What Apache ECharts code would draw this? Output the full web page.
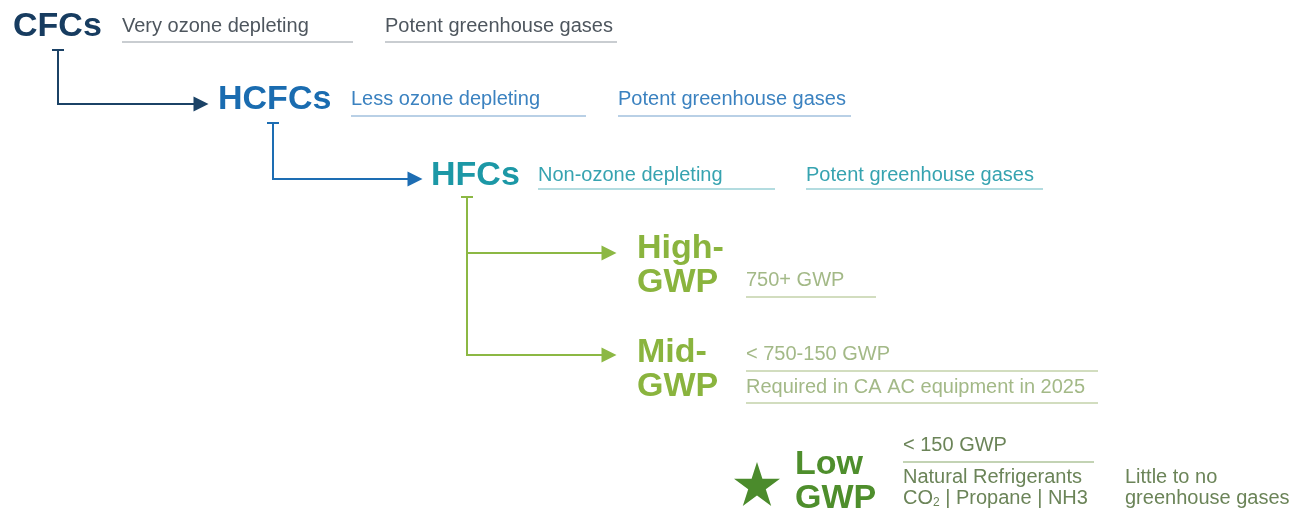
<!DOCTYPE html>
<html>
<head>
<meta charset="utf-8">
<title>Refrigerant transition</title>
<script src="https://cdn.jsdelivr.net/npm/echarts@6/dist/echarts.min.js"></script>
<style>
  html, body { margin: 0; padding: 0; background: #fff; }
  #main { width: 1314px; height: 512px; }
</style>
</head>
<body>
<div id="main"></div>
<script>
// refrigerant generations, placed on a 1314 x 512 value plane
const stageNames = ['CFCs', 'HCFCs', 'HFCs', 'High-\nGWP', 'Mid-\nGWP', 'Low\nGWP'];
const stageX = [13, 218, 431, 637, 637, 795];
const stageY = [27, 100, 176, 266, 370, 482];

// annotations next to each generation
const noteTexts = [
  'Very ozone depleting', 'Potent greenhouse gases',
  'Less ozone depleting', 'Potent greenhouse gases',
  'Non-ozone depleting', 'Potent greenhouse gases',
  '750+ GWP',
  '< 750-150 GWP', 'Required in CA AC equipment in 2025',
  '< 150 GWP', 'Natural Refrigerants', 'CO{sub|2} | Propane | NH3',
  'Little to no', 'greenhouse gases'
];
const noteStage = [0, 0, 1, 1, 2, 2, 3, 4, 4, 5, 5, 5, 5, 5];
const noteX = [122, 385, 351, 618, 538, 806, 746, 746, 746, 903, 903, 903, 1125, 1125];
const noteY = [26, 26, 99, 99, 175, 175, 280, 354, 387, 445, 477, 498, 477, 498];

// rules under the annotations: [x start, x end, y]
const ruleSpans = [
  [122, 353, 42], [385, 617, 42],
  [351, 586, 116], [618, 851, 116],
  [538, 775, 189], [806, 1043, 189],
  [746, 876, 297],
  [746, 1098, 371], [746, 1098, 403],
  [903, 1094, 462]
];
const ruleStage = [0, 0, 1, 1, 2, 2, 3, 4, 4, 5];

// connectors: the drop from each generation, then the arrow to the next
const dropPaths = [
  [[52, 50], [64, 50]],
  [[58, 50], [58, 105]],
  [[267, 123], [279, 123]],
  [[273, 123], [273, 180]],
  [[461, 197], [473, 197]],
  [[467, 197], [467, 356]]
];
const dropStage = [0, 0, 1, 1, 2, 2];
const arrowPaths = [
  [[57, 104], [201, 104]],
  [[272, 179], [415, 179]],
  [[467, 253], [609, 253]],
  [[467, 355], [609, 355]]
];
const arrowStage = [0, 1, 2, 2];

const starPoint = [757, 484];

// colours per stage
const titleColors = ['#173c60', '#1a6cb0', '#1c98a6', '#8ab43e', '#8ab43e', '#4e8e2c'];
const noteColors = ['#4e565e', '#3b82c0', '#36a3b0', '#a3b987', '#a3b987', '#6b8458'];
const ruleColors = ['#c9cdd1', '#b9d0e6', '#b3dce0', '#d2ddbf', '#d2ddbf', '#c3d3b4'];
const linkColors = ['#1b4266', '#1d6db3', '#8cb844'];

const FONT = '"Liberation Sans", Arial, Helvetica, sans-serif';

const chart = echarts.init(document.getElementById('main'));

const option = {
  animation: false,
  grid: { left: 0, right: 0, top: 0, bottom: 0 },
  xAxis: { type: 'value', min: 0, max: 1314, show: false },
  yAxis: { type: 'value', min: 0, max: 512, inverse: true, show: false },
  series: [
    {
      type: 'lines',
      coordinateSystem: 'cartesian2d',
      silent: true,
      symbol: 'none',
      data: dropPaths.map((p, i) => ({
        coords: p,
        lineStyle: { color: linkColors[dropStage[i]], width: 2, opacity: 1 }
      }))
    },
    {
      type: 'lines',
      coordinateSystem: 'cartesian2d',
      silent: true,
      symbol: ['none', 'triangle'],
      symbolSize: 15,
      data: arrowPaths.map((p, i) => ({
        coords: p,
        lineStyle: { color: linkColors[arrowStage[i]], width: 2, opacity: 1 }
      }))
    },
    {
      type: 'lines',
      coordinateSystem: 'cartesian2d',
      silent: true,
      symbol: 'none',
      data: ruleSpans.map((s, i) => ({
        coords: [[s[0], s[2]], [s[1], s[2]]],
        lineStyle: { color: ruleColors[ruleStage[i]], width: 2, opacity: 1 }
      }))
    },
    {
      type: 'scatter',
      silent: true,
      symbol: 'path://M50,0 L61.2,34.5 L97.6,34.5 L68.2,55.9 L79.4,90.5 L50,69.1 L20.6,90.5 L31.8,55.9 L2.4,34.5 L38.8,34.5 Z',
      symbolSize: [46, 44],
      itemStyle: { color: '#4b8b2c', opacity: 1 },
      data: [starPoint]
    },
    {
      type: 'custom',
      silent: true,
      data: stageNames.map((n, i) => [stageX[i], stageY[i], i]),
      renderItem: function (params, api) {
        const i = api.value(2);
        const p = api.coord([api.value(0), api.value(1)]);
        return {
          type: 'text',
          x: p[0],
          y: p[1],
          style: {
            text: stageNames[i],
            fill: titleColors[i],
            font: 'bold 34px ' + FONT,
            lineHeight: 34,
            align: 'left',
            verticalAlign: 'middle'
          }
        };
      }
    },
    {
      type: 'custom',
      silent: true,
      data: noteTexts.map((t, i) => [noteX[i], noteY[i], i]),
      renderItem: function (params, api) {
        const i = api.value(2);
        const p = api.coord([api.value(0), api.value(1)]);
        const c = noteColors[noteStage[i]];
        return {
          type: 'text',
          x: p[0],
          y: p[1],
          style: {
            text: noteTexts[i],
            fill: c,
            font: '20px ' + FONT,
            align: 'left',
            verticalAlign: 'middle',
            rich: {
              sub: { fontSize: 12, fontFamily: FONT, fill: c, verticalAlign: 'bottom', padding: [10, 0, 0, 0] }
            }
          }
        };
      }
    }
  ]
};

chart.setOption(option);
</script>
</body>
</html>
